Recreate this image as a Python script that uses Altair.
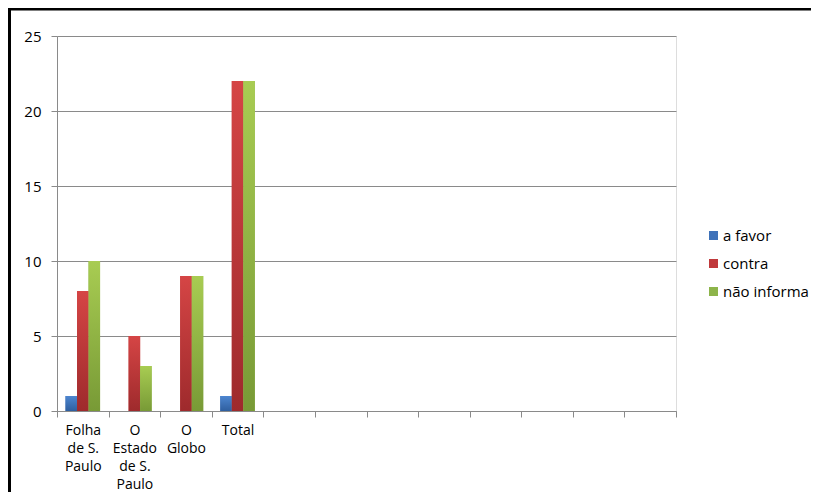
import altair as alt
import pandas as pd

# ---- data ----
categories = ["Folha de S. Paulo", "O Estado de S. Paulo", "O Globo", "Total"]
label_lines = [["Folha", "de S.", "Paulo"], ["O", "Estado", "de S.", "Paulo"], ["O", "Globo"], ["Total"]]
empty_slots = ["_5", "_6", "_7", "_8", "_9", "_10", "_11", "_12"]
series = ["a favor", "contra", "não informa"]
a_favor = [1, 0, 0, 1]
contra = [8, 5, 9, 22]
nao_informa = [10, 3, 9, 22]
y_ticks = [0, 5, 10, 15, 20, 25]

legend_colors = ["#3f72b9", "#c0393b", "#8db44a"]
grad_top = ["#4d86d0", "#d54545", "#a8cc52"]
grad_bottom = ["#2f5f9f", "#9e2a2c", "#789a36"]

rows = []
for s, vals in zip(series, [a_favor, contra, nao_informa]):
    for c, v in zip(categories, vals):
        rows.append({"category": c, "series": s, "value": v})
df = pd.DataFrame(rows)

FONT = "Open Sans"
domain_x = categories + empty_slots

# label expression building multi-line labels
parts = []
for c, lines in zip(categories, label_lines):
    arr = "[" + ",".join("'" + l + "'" for l in lines) + "]"
    parts.append(f"datum.value == '{c}' ? {arr}")
label_expr = " : ".join(parts) + " : ''"

x_enc = alt.X(
    "category:N",
    scale=alt.Scale(domain=domain_x, paddingInner=0, paddingOuter=0),
    sort=domain_x,
    axis=alt.Axis(
        title=None, labelExpr=label_expr, labelAngle=0, tickBand="extent",
        domainColor="#8a8a8a", tickColor="#8a8a8a", tickSize=6,
        labelFont=FONT, labelFontSize=14, labelColor="#000000",
        labelLineHeight=18, labelPadding=6, labelBaseline="top", grid=False,
    ),
)
xo_enc = alt.XOffset("series:N", scale=alt.Scale(domain=series, paddingOuter=0.74, paddingInner=0))
y_enc = alt.Y(
    "value:Q",
    scale=alt.Scale(domain=[0, 25], nice=False),
    axis=alt.Axis(
        title=None, values=y_ticks, grid=True, gridColor="#8a8a8a", gridWidth=1,
        domainColor="#8a8a8a", tickColor="#8a8a8a", tickSize=6,
        labelFont=FONT, labelFontSize=15, labelColor="#000000", labelPadding=10,
    ),
)

base = alt.Chart(df).mark_bar().encode(
    x=x_enc, xOffset=xo_enc, y=y_enc,
    color=alt.Color(
        "series:N",
        scale=alt.Scale(domain=series, range=legend_colors),
        legend=alt.Legend(
            title=None, orient="none", legendX=649, legendY=192,
            symbolType="square", symbolSize=81, symbolStrokeWidth=0,
            labelFont=FONT, labelFontSize=15, labelColor="#000000",
            rowPadding=12, labelOffset=2, padding=0,
        ),
    ),
)

layers = [base]
for s, t, b in zip(series, grad_top, grad_bottom):
    grad = alt.Gradient(
        gradient="linear", x1=0, x2=0, y1=0, y2=1,
        stops=[alt.GradientStop(color=t, offset=0), alt.GradientStop(color=b, offset=1)],
    )
    layers.append(
        alt.Chart(df).transform_filter(alt.datum.series == s).mark_bar(fill=grad).encode(
            x=x_enc, xOffset=xo_enc, y=y_enc
        )
    )

frame_src = alt.Data(values=[{}])
top_border = alt.Chart(frame_src).mark_rule(color="#000000", strokeWidth=3).encode(
    x=alt.value(-49), x2=alt.value(754), y=alt.value(-27)
)
left_border = alt.Chart(frame_src).mark_rule(color="#000000", strokeWidth=3).encode(
    x=alt.value(-47.5), y=alt.value(-28), y2=alt.value(470)
)

chart = alt.layer(*layers, top_border, left_border).properties(
    width=619, height=375,
    autosize=alt.AutoSizeParams(type="none"),
    padding={"left": 49, "top": 28, "right": 135, "bottom": 81},
).configure_view(stroke=None).configure(background="#ffffff")

chart.save("out.html", embed_options={"renderer": "svg", "actions": False})
